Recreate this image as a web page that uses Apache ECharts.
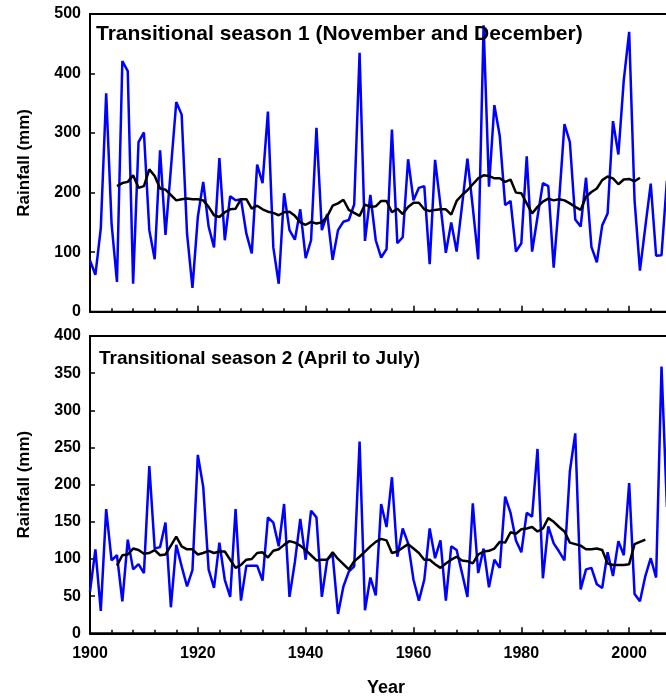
<!DOCTYPE html>
<html>
<head>
<meta charset="utf-8">
<script src="https://cdn.jsdelivr.net/npm/echarts@6/dist/echarts.min.js"></script>
<style>
  html, body { margin: 0; padding: 0; background: #fff; }
  #chart { width: 666px; height: 698px; }
</style>
</head>
<body>
<div id="chart"></div>
<script>
// Seasonal rainfall series, 1900-2007, with their running means
const firstYear = 1900;

const season1Rain = [
  86, 62, 140, 367, 148, 50, 421, 404, 47, 285,
  301, 137, 88, 271, 129, 240, 352, 331, 131, 40,
  159, 218, 143, 108, 258, 120, 194, 187, 189, 131,
  98, 247, 216, 336, 108, 47, 199, 137, 121, 172,
  90, 120, 309, 137, 164, 87, 137, 151, 154, 180,
  435, 119, 196, 120, 91, 105, 306, 115, 125, 256,
  187, 208, 211, 80, 255, 179, 99, 150, 101, 178,
  257, 175, 88, 481, 210, 347, 295, 179, 186, 101,
  115, 261, 101, 159, 216, 211, 74, 186, 315, 285,
  155, 143, 225, 109, 83, 145, 165, 320, 264, 389,
  470, 187, 69, 143, 215, 94, 95, 220
];

// running mean, 1905-2002
const season1MeanStart = 1905;
const season1Mean = [
  211, 216, 218, 229, 208, 211, 239, 228, 207, 205,
  196, 187, 189, 190, 189, 189, 187, 176, 162, 159,
  167, 172, 173, 189, 189, 173, 178, 172, 168, 166,
  162, 167, 168, 161, 150, 146, 151, 148, 150, 160,
  178, 182, 188, 171, 166, 161, 180, 176, 177, 186,
  186, 167, 173, 164, 176, 183, 183, 172, 169, 171,
  172, 172, 163, 186, 196, 204, 214, 224, 229, 228,
  224, 224, 218, 222, 200, 199, 182, 165, 176, 185,
  190, 187, 189, 187, 182, 176, 171, 193, 201, 207,
  221, 227, 224, 214, 222, 223, 219, 225
];

const season2Rain = [
  56, 113, 30, 167, 98, 105, 43, 126, 86, 93,
  81, 225, 114, 116, 149, 35, 119, 90, 63, 85,
  240, 197, 86, 61, 122, 72, 49, 167, 44, 91,
  91, 91, 71, 156, 149, 117, 174, 49, 96, 154,
  99, 165, 156, 49, 99, 106, 26, 63, 83, 90,
  258, 31, 75, 51, 174, 143, 210, 103, 141, 121,
  72, 44, 72, 141, 101, 125, 44, 117, 112, 81,
  49, 175, 81, 114, 62, 99, 88, 184, 162, 125,
  109, 162, 157, 248, 74, 144, 121, 110, 98, 218,
  269, 59, 86, 88, 66, 61, 109, 77, 124, 105,
  202, 53, 43, 77, 101, 75, 359, 170
];

// running mean, 1905-2003
const season2MeanStart = 1905;
const season2Mean = [
  91, 105, 106, 114, 112, 107, 108, 112, 105, 106,
  118, 130, 117, 113, 113, 106, 108, 111, 108, 110,
  110, 99, 88, 92, 99, 100, 108, 109, 102, 111,
  113, 119, 124, 122, 118, 112, 105, 98, 99, 99,
  109, 100, 93, 86, 97, 103, 110, 117, 123, 127,
  125, 108, 110, 115, 120, 114, 108, 99, 99, 93,
  88, 94, 99, 103, 98, 97, 94, 106, 110, 111,
  114, 123, 122, 136, 134, 140, 141, 143, 137, 141,
  155, 150, 143, 137, 122, 120, 118, 113, 113, 114,
  112, 94, 92, 92, 92, 93, 120, 123, 126
];

const panelTitles = [
  'Transitional season 1 (November and December)',
  'Transitional season 2 (April to July)'
];
const yAxisTitle = 'Rainfall (mm)';
const xAxisTitle = 'Year';

function pairs(start, values) {
  return values.map((v, i) => [start + i, v]);
}

const FONT = '"Liberation Sans", Arial, Helvetica, sans-serif';
const BLUE = '#0000ff';

function plainNumber(v) { return String(v); }

function xAxisFor(gridIndex, showLabels) {
  return {
    type: 'value', gridIndex: gridIndex,
    min: 1900, max: 2020, interval: 20,
    axisLine: { show: true, onZero: false, lineStyle: { color: '#000', width: 2 } },
    axisTick: { show: true, inside: true, length: 6, lineStyle: { color: '#000', width: 1.5 } },
    minorTick: { show: true, splitNumber: 5, length: 3.5, lineStyle: { color: '#000', width: 1.5 } },
    splitLine: { show: false },
    axisLabel: {
      show: showLabels, margin: 12, color: '#000',
      fontFamily: FONT, fontWeight: 'bold', fontSize: 16,
      showMaxLabel: false, formatter: plainNumber
    }
  };
}

function yAxisFor(gridIndex, max, interval) {
  return {
    type: 'value', gridIndex: gridIndex,
    min: 0, max: max, interval: interval,
    name: yAxisTitle, nameLocation: 'middle', nameGap: 57,
    nameTextStyle: { color: '#000', fontFamily: FONT, fontWeight: 'bold', fontSize: 17 },
    axisLine: { show: true, lineStyle: { color: '#000', width: 2 } },
    axisTick: { show: true, inside: true, length: 5, lineStyle: { color: '#000', width: 1.5 } },
    splitLine: { show: false },
    axisLabel: { margin: 9, color: '#000', fontFamily: FONT, fontWeight: 'bold', fontSize: 16, formatter: plainNumber }
  };
}

function lineSeries(idx, data, color, z) {
  return {
    type: 'line', xAxisIndex: idx, yAxisIndex: idx,
    data: data, showSymbol: false, symbol: 'none', z: z,
    lineStyle: { color: color, width: 2.5 },
    clip: true
  };
}

// the plot area runs on past the right edge of the page (axis ends at 2020)
const gridBase = {
  left: 90, width: 647, show: true, borderColor: '#000', borderWidth: 2,
  backgroundColor: 'transparent', containLabel: false, outerBoundsMode: 'none'
};

const chart = echarts.init(document.getElementById('chart'), null, { renderer: 'canvas' });

chart.setOption({
  backgroundColor: '#fff',
  animation: false,
  grid: [
    Object.assign({}, gridBase, { top: 14, height: 297.7 }),
    Object.assign({}, gridBase, { top: 336, height: 297.3 })
  ],
  xAxis: [xAxisFor(0, false), xAxisFor(1, true)],
  yAxis: [yAxisFor(0, 500, 100), yAxisFor(1, 400, 50)],
  series: [
    lineSeries(0, pairs(firstYear, season1Rain), BLUE, 2),
    lineSeries(0, pairs(season1MeanStart, season1Mean), '#000', 3),
    lineSeries(1, pairs(firstYear, season2Rain), BLUE, 2),
    lineSeries(1, pairs(season2MeanStart, season2Mean), '#000', 3)
  ],
  graphic: [
    { type: 'text', x: 96, y: 34, z: 10,
      style: { text: panelTitles[0], font: 'bold 21px ' + FONT, fill: '#000', textAlign: 'left', textVerticalAlign: 'middle' } },
    { type: 'text', x: 99, y: 359, z: 10,
      style: { text: panelTitles[1], font: 'bold 19px ' + FONT, fill: '#000', textAlign: 'left', textVerticalAlign: 'middle' } },
    { type: 'text', x: 386, y: 688, z: 10,
      style: { text: xAxisTitle, font: 'bold 18px ' + FONT, fill: '#000', textAlign: 'center', textVerticalAlign: 'middle' } }
  ]
});
</script>
</body>
</html>
